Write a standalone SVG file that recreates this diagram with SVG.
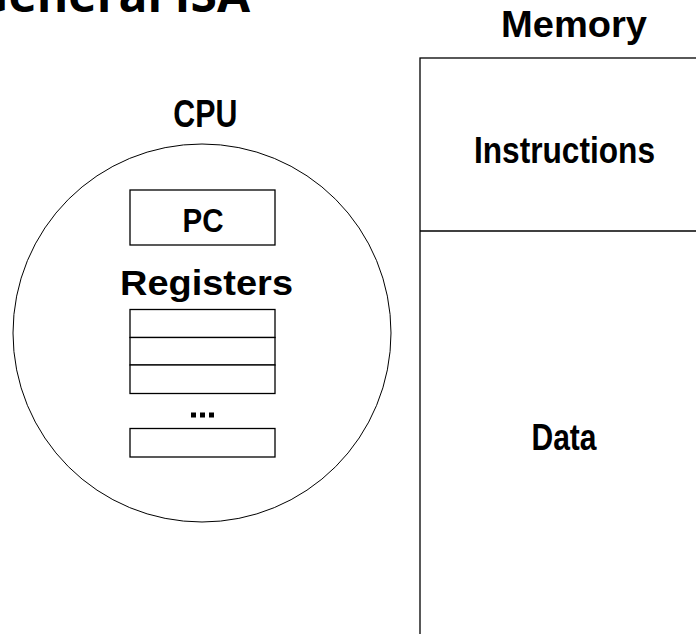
<svg xmlns="http://www.w3.org/2000/svg" width="696" height="634" viewBox="0 0 696 634">
  <style>
    .lbl { font-family: "Liberation Sans", Arial, sans-serif; font-weight: bold; fill: #000; text-anchor: middle; }
    .title { font-family: "Open Sans", "Noto Sans", sans-serif; font-weight: bold; fill: #000; text-anchor: end; }
    .box { fill: #fff; stroke: #000; stroke-width: 1.3; }
    .thin { fill: none; stroke: #000; stroke-width: 1; }
  </style>
  <rect width="696" height="634" fill="#fff"/>

  <!-- heading, partly above the top edge -->
  <text class="title" x="250" y="12" font-size="48">General ISA</text>

  <!-- CPU -->
  <g id="cpu">
    <text class="lbl" x="205.3" y="126.7" font-size="38" textLength="64" lengthAdjust="spacingAndGlyphs">CPU</text>
    <circle class="thin" cx="202" cy="333" r="189"/>
  </g>

  <g id="pc">
    <rect class="box" x="130" y="190" width="145" height="55"/>
    <text class="lbl" x="203" y="232.3" font-size="34" textLength="41" lengthAdjust="spacingAndGlyphs">PC</text>
  </g>

  <g id="registers">
    <text class="lbl" x="206.5" y="295" font-size="35" textLength="173" lengthAdjust="spacingAndGlyphs">Registers</text>
    <rect class="box" x="130" y="309.5" width="145" height="28"/>
    <rect class="box" x="130" y="337.5" width="145" height="27.5"/>
    <rect class="box" x="130" y="365" width="145" height="28.5"/>
    <rect x="191" y="412.5" width="5" height="5" fill="#000"/>
    <rect x="200" y="412.5" width="5" height="5" fill="#000"/>
    <rect x="209" y="412.5" width="5" height="5" fill="#000"/>
    <rect class="box" x="130" y="428.5" width="145" height="28.5"/>
  </g>

  <!-- Memory -->
  <g id="memory">
    <text class="lbl" x="574" y="37" font-size="36" textLength="146" lengthAdjust="spacingAndGlyphs">Memory</text>
    <rect class="box" x="420" y="58" width="300" height="600"/>
  </g>

  <g id="instructions">
    <line class="box" x1="420" y1="231" x2="696" y2="231"/>
    <text class="lbl" x="564.5" y="163" font-size="36" textLength="181" lengthAdjust="spacingAndGlyphs">Instructions</text>
  </g>

  <g id="data">
    <text class="lbl" x="564" y="450" font-size="37" textLength="65" lengthAdjust="spacingAndGlyphs">Data</text>
  </g>

  <g id="connectors"></g>
</svg>
